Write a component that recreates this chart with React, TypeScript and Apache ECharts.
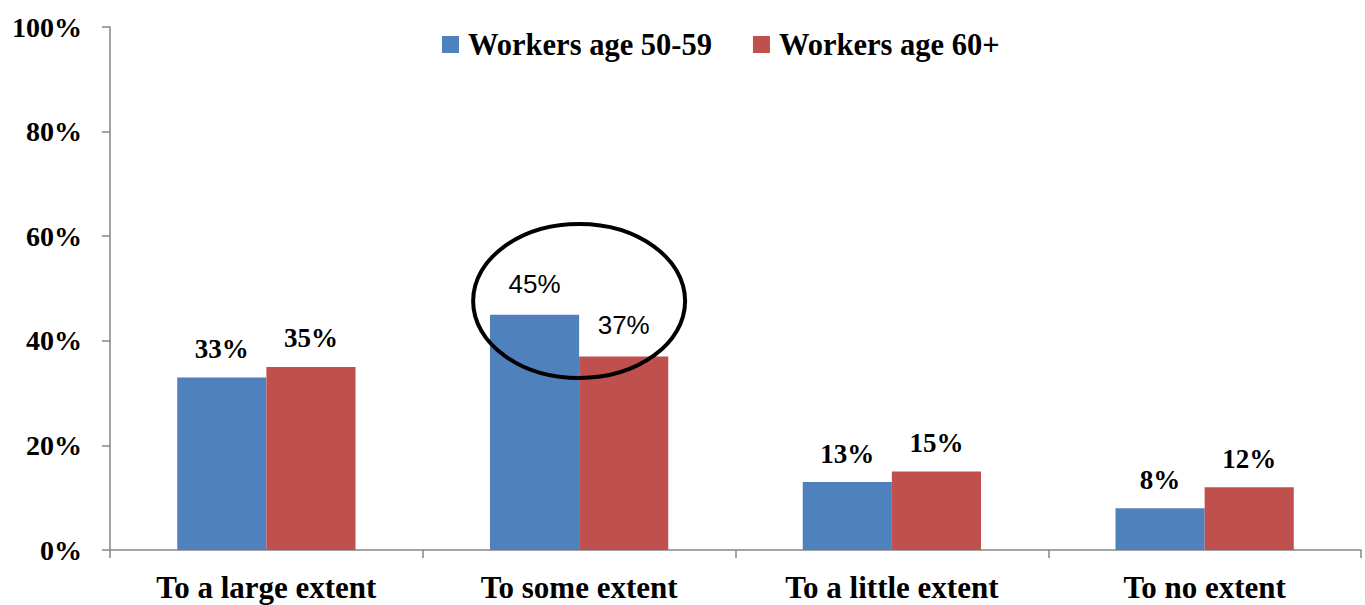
import React, { useEffect, useRef } from "react";
import * as echarts from "echarts";

const categories = ["To a large extent", "To some extent", "To a little extent", "To no extent"];
const seriesNames = ["Workers age 50-59", "Workers age 60+"];
const workers5059 = [33, 45, 13, 8];
const workers60 = [35, 37, 15, 12];
const yTicks = [0, 20, 40, 60, 80, 100];
const highlightIndex = 1;

const serif = "'Liberation Serif', 'Times New Roman', serif";
const sans = "'Liberation Sans', Arial, sans-serif";

function makeData(values: number[]) {
  return values.map((v, i) =>
    i === highlightIndex
      ? { value: v, label: { fontFamily: sans, fontWeight: "normal", fontSize: 26, distance: 18 } }
      : { value: v }
  );
}

export default function App() {
  const ref = useRef<HTMLDivElement>(null);
  useEffect(() => {
    if (!ref.current) return;
    const chart = echarts.init(ref.current, null, { renderer: "svg" });
    const labelCfg = {
      show: true,
      position: "top",
      distance: 15,
      formatter: "{c}%",
      fontFamily: serif,
      fontWeight: "bold",
      fontSize: 27,
      color: "#000",
    };
    chart.setOption({
      animation: false,
      backgroundColor: "#fff",
      grid: { left: 110, right: 4, top: 27, bottom: 55 },
      legend: {
        left: 437,
        top: 24,
        itemWidth: 17,
        itemHeight: 17,
        itemGap: 41,
        icon: "rect",
        textStyle: {
          fontFamily: serif,
          fontWeight: "bold",
          fontSize: 30.5,
          color: "#000",
          padding: [0, 0, 0, 4],
        },
        data: seriesNames,
      },
      xAxis: {
        type: "category",
        data: categories,
        axisLine: { lineStyle: { color: "#868686", width: 1.5 } },
        axisTick: { show: true, length: 8, lineStyle: { color: "#868686", width: 1.5 } },
        axisLabel: {
          margin: 22,
          fontFamily: serif,
          fontWeight: "bold",
          fontSize: 31,
          color: "#000",
        },
      },
      yAxis: {
        type: "value",
        min: 0,
        max: 100,
        interval: 20,
        splitLine: { show: false },
        axisLine: { show: true, lineStyle: { color: "#868686", width: 1.5 } },
        axisTick: { show: true, length: 8, lineStyle: { color: "#868686", width: 1.5 } },
        axisLabel: {
          margin: 28,
          fontFamily: serif,
          fontWeight: "bold",
          fontSize: 28,
          color: "#000",
          formatter: (v: number) => (yTicks.includes(v) ? v + "%" : ""),
        },
      },
      series: [
        {
          name: seriesNames[0],
          type: "bar",
          data: makeData(workers5059),
          barWidth: "28.5%",
          barGap: "0%",
          itemStyle: { color: "#4F81BD" },
          label: labelCfg,
        },
        {
          name: seriesNames[1],
          type: "bar",
          data: makeData(workers60),
          barWidth: "28.5%",
          barGap: "0%",
          itemStyle: { color: "#C0504D" },
          label: labelCfg,
        },
      ],
    });
    const c = chart.convertToPixel({ gridIndex: 0 }, [categories[highlightIndex], 47.8]) as number[];
    chart.setOption({
      graphic: [
        {
          type: "ellipse",
          x: c[0],
          y: c[1] + 1,
          shape: { cx: 0, cy: 0, rx: 106, ry: 77 },
          style: { fill: "none", stroke: "#000", lineWidth: 4 },
          z: 100,
        },
      ],
    });
    return () => chart.dispose();
  }, []);
  return <div ref={ref} style={{ width: 1365, height: 605, position: "absolute", left: 0, top: 0 }} />;
}
